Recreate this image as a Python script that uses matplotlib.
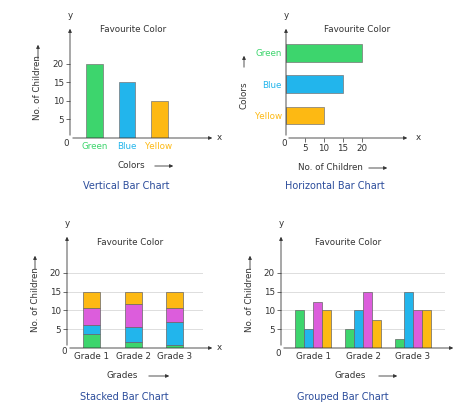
import matplotlib
matplotlib.use('Agg')
import matplotlib.pyplot as plt
import numpy as np

# data
colors_cat = ['Green', 'Blue', 'Yellow']
children = [20, 15, 10]
grades = ['Grade 1', 'Grade 2', 'Grade 3']
green_vals = [3.8, 1.5, 0.8]
blue_vals = [2.2, 4.0, 6.0]
pink_vals = [4.5, 6.3, 3.7]
yellow_vals = [4.5, 3.2, 4.5]
grp_green = [10, 5, 2.5]
grp_blue = [5, 10, 15]
grp_pink = [12.3, 15, 10]
grp_yellow = [10, 7.5, 10]
ticks = [5, 10, 15, 20]

GREEN, BLUE, PINK, YELLOW = '#3dd56d', '#22b5ec', '#dc5ddc', '#fdb913'
pal = [GREEN, BLUE, YELLOW]
TITLE_C = '#2b4c9b'
TXT = '#333333'
W, H = 477, 416
fs = 6.3

fig = plt.figure(figsize=(W / 100, H / 100), dpi=100)
fig.patch.set_facecolor('white')

def px_axes(x0, ytop, x1, ybot):
    return fig.add_axes([x0 / W, 1 - ybot / H, (x1 - x0) / W, (ybot - ytop) / H])

def ftext(x, y, s, **kw):
    kw.setdefault('fontsize', fs)
    kw.setdefault('color', TXT)
    fig.text(x / W, 1 - y / H, s, ha=kw.pop('ha', 'center'), va=kw.pop('va', 'center'), **kw)

def farrow(x0, y0, x1, y1):
    fig.add_artist(matplotlib.patches.FancyArrowPatch((x0 / W, 1 - y0 / H), (x1 / W, 1 - y1 / H),
                   transform=fig.transFigure, arrowstyle='-|>', mutation_scale=5, lw=0.6, color='#333333'))

def base(ax):
    for s in ax.spines.values():
        s.set_visible(False)
    ax.tick_params(length=3, width=0.6, labelsize=fs, colors='#555555', labelcolor=TXT, pad=1.5)
    ax.patch.set_alpha(0)

# axis arrows (in figure pixels)
def axes_arrows(ox, oy, xend, ytop):
    farrow(ox, oy, xend, oy)
    farrow(ox, oy, ox, ytop)

# ---- Vertical bar chart
ax = px_axes(70, 30, 200, 138)
base(ax)
ax.bar(range(3), children, width=0.53, color=pal, edgecolor='#777777', lw=0.5)
ax.set_xlim(-0.78, 3.28); ax.set_ylim(0, 29)
ax.set_yticks(ticks)
ax.set_xticks(range(3)); ax.set_xticklabels(colors_cat)
for t, c in zip(ax.get_xticklabels(), pal):
    t.set_color(c)
ax.tick_params(axis='x', length=0, pad=3)
axes_arrows(70, 138, 215, 26)
ftext(66, 144, '0'); ftext(70, 16, 'y'); ftext(219, 138, 'x')
ftext(133, 30, 'Favourite Color')
ftext(38, 88, 'No. of Children', rotation=90)
farrow(38, 62, 38, 42)
ftext(131, 166, 'Colors'); farrow(152, 166, 176, 166)
ftext(126, 186, 'Vertical Bar Chart', color=TITLE_C, fontsize=7)

# ---- Horizontal bar chart
ax = px_axes(286, 30, 400, 138)
base(ax)
ax.barh([2, 1, 0], children, height=0.55, color=pal, edgecolor='#777777', lw=0.5)
ax.set_xlim(0, 30); ax.set_ylim(-0.74, 2.74)
ax.set_xticks(ticks)
ax.set_yticks([2, 1, 0]); ax.set_yticklabels(colors_cat)
for t, c in zip(ax.get_yticklabels(), pal):
    t.set_color(c)
ax.tick_params(axis='y', length=0, pad=3)
axes_arrows(286, 138, 410, 26)
ftext(284, 144, '0'); ftext(286, 16, 'y'); ftext(418, 137, 'x')
ftext(357, 29, 'Favourite Color')
ftext(244, 95, 'Colors', rotation=90)
farrow(244, 70, 244, 53)
ftext(330, 167, 'No. of Children'); farrow(366, 168, 390, 168)
ftext(335, 186, 'Horizontal Bar Chart', color=TITLE_C, fontsize=7)

# ---- Stacked bar chart
ax = px_axes(67, 235, 203, 348)
base(ax)
x = np.arange(3)
bottom = np.zeros(3)
for vals, c in zip([green_vals, blue_vals, pink_vals, yellow_vals], [GREEN, BLUE, PINK, YELLOW]):
    ax.bar(x, vals, bottom=bottom, width=0.41, color=c, edgecolor='#666666', lw=0.5, zorder=3)
    bottom += np.array(vals)
ax.set_xlim(-0.6, 2.68); ax.set_ylim(0, 30)
ax.set_yticks(ticks)
ax.yaxis.grid(True, color='#d8d8d8', lw=0.6, zorder=0)
ax.set_xticks(x); ax.set_xticklabels(grades)
ax.tick_params(axis='x', length=0, pad=3)
axes_arrows(67, 348, 215, 234)
ftext(64, 352, '0'); ftext(67, 224, 'y'); ftext(219, 347, 'x')
ftext(130, 242, 'Favourite Color')
ftext(35, 300, 'No. of Children', rotation=90)
farrow(35, 272, 35, 253)
ftext(122, 376, 'Grades'); farrow(146, 376, 172, 376)
ftext(124, 397, 'Stacked Bar Chart', color=TITLE_C, fontsize=7)

# ---- Grouped bar chart
ax = px_axes(281, 235, 445, 348)
base(ax)
bw = 0.18
for i, (vals, c) in enumerate(zip([grp_green, grp_blue, grp_pink, grp_yellow], [GREEN, BLUE, PINK, YELLOW])):
    ax.bar(x + (i - 1.5) * bw, vals, width=bw, color=c, edgecolor='#666666', lw=0.5, zorder=3)
ax.set_xlim(-0.65, 2.65); ax.set_ylim(0, 30)
ax.set_yticks(ticks)
ax.yaxis.grid(True, color='#d8d8d8', lw=0.6, zorder=0)
ax.set_xticks(x); ax.set_xticklabels(grades)
ax.tick_params(axis='x', length=0, pad=3)
farrow(281, 348, 456, 348); farrow(281, 348, 281, 234)
ftext(278, 353, '0'); ftext(281, 224, 'y')
ftext(348, 242, 'Favourite Color')
ftext(250, 300, 'No. of Children', rotation=90)
farrow(250, 272, 250, 253)
ftext(350, 376, 'Grades'); farrow(376, 376, 400, 376)
ftext(343, 397, 'Grouped Bar Chart', color=TITLE_C, fontsize=7)

fig.savefig('out.png', dpi=100)
